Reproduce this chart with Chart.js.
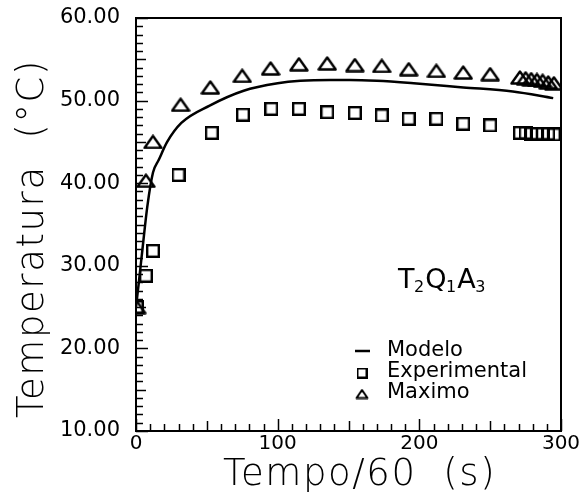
<!DOCTYPE html>
<html><head><meta charset="utf-8">
<script src="https://cdn.jsdelivr.net/npm/chart.js@4/dist/chart.umd.min.js"></script>
<style>html,body{margin:0;padding:0;background:#fff;}canvas{display:block;}</style>
</head><body>
<canvas id="c" width="581" height="497"></canvas>
<script>
// ---- data ----
const modelX = [0, 2, 5, 8, 12, 16, 22, 32, 52, 76, 100, 116, 137, 151, 170, 196, 231, 266, 294.5];
const modelY = [25.0, 28.0, 32.7, 37.2, 41.3, 42.8, 45.0, 47.3, 49.4, 51.2, 52.1, 52.4, 52.5, 52.5, 52.4, 52.1, 51.6, 51.1, 50.3];

const expX = [0.5, 7, 12, 30, 53.5, 75.5, 95.5, 115, 135, 154.5, 173.5, 192.5, 212, 231, 250, 271, 275, 279, 283, 287, 291, 295];
const expY = [25.0, 28.8, 31.8, 41.0, 46.1, 48.3, 49.0, 49.0, 48.6, 48.5, 48.2, 47.8, 47.8, 47.2, 47.0, 46.1, 46.1, 46.0, 46.0, 46.0, 46.0, 45.9];

const maxX = [0.5, 7, 12, 31.5, 52.5, 75, 95, 115, 135, 154.5, 173.5, 192.5, 212, 231, 250, 271, 275, 279, 283, 287, 291, 295];
const maxY = [25.0, 40.3, 45.0, 49.5, 51.6, 53.0, 53.9, 54.4, 54.5, 54.3, 54.2, 53.8, 53.6, 53.4, 53.2, 52.8, 52.7, 52.6, 52.5, 52.4, 52.2, 52.1];

const seriesNames = ['Modelo', 'Experimental', 'Maximo'];
const xTitle = 'Tempo/60  (s)';
const yTitle = 'Temperatura  (°C)';
const annotationParts = [['T', false], ['2', true], ['Q', false], ['1', true], ['A', false], ['3', true]];

const FONT = "'DejaVu Sans', sans-serif";

function toPoints(xs, ys) { return xs.map((x, i) => ({x: x, y: ys[i]})); }

function makeSquare(s, lw) {
  const c = document.createElement('canvas');
  c.width = s; c.height = s;
  const g = c.getContext('2d');
  g.strokeStyle = '#000'; g.lineWidth = lw;
  g.strokeRect(lw / 2, lw / 2, s - lw, s - lw);
  return c;
}
function makeTriangle(w, h, lw) {
  const c = document.createElement('canvas');
  c.width = w; c.height = h;
  const g = c.getContext('2d');
  g.strokeStyle = '#000'; g.lineWidth = lw; g.lineJoin = 'round';
  g.beginPath();
  g.moveTo(1.5, h - 1.5); g.lineTo(w / 2, 1.5); g.lineTo(w - 1.5, h - 1.5); g.closePath();
  g.stroke();
  return c;
}
const sqImg = makeSquare(14, 2.4);
const triImg = makeTriangle(20, 15, 2.4);
const sqLeg = makeSquare(11, 2);
const triLeg = makeTriangle(14, 11, 2);

const framePlugin = {
  id: 'frame',
  afterDraw(chart) {
    const {ctx, chartArea: a, scales: {x, y}} = chart;
    ctx.save();
    ctx.strokeStyle = '#000';
    ctx.lineWidth = 2;
    ctx.strokeRect(a.left, a.top, a.right - a.left, a.bottom - a.top);
    ctx.lineWidth = 1.5;
    for (let v = y.min; v <= y.max + 1e-6; v += 1) {
      const p = Math.round(y.getPixelForValue(v)) + 0.5;
      const r = Math.round(v);
      const len = (r % 10 === 0) ? 12 : (r % 5 === 0 ? 10 : 7);
      ctx.beginPath(); ctx.moveTo(a.left, p); ctx.lineTo(a.left + len, p); ctx.stroke();
    }
    for (let v = x.min; v <= x.max + 1e-6; v += 10) {
      const p = Math.round(x.getPixelForValue(v)) + 0.5;
      const r = Math.round(v);
      const len = (r % 100 === 0) ? 12 : (r % 50 === 0 ? 10 : 7);
      ctx.beginPath(); ctx.moveTo(p, a.bottom); ctx.lineTo(p, a.bottom - len); ctx.stroke();
    }
    ctx.fillStyle = '#000';
    ctx.font = '200 37px ' + FONT;
    ctx.textBaseline = 'alphabetic';
    ctx.textAlign = 'left';
    if ('letterSpacing' in ctx) ctx.letterSpacing = '1.6px';
    ctx.fillText(xTitle, 223, 485);
    ctx.save();
    ctx.translate(43, 418);
    ctx.rotate(-Math.PI / 2);
    ctx.fillText(yTitle, 0, 0);
    ctx.restore();
    if ('letterSpacing' in ctx) ctx.letterSpacing = '0px';
    const ds = chart.data.datasets;
    ctx.font = '21px ' + FONT;
    ctx.textBaseline = 'middle';
    ds.forEach((d, i) => {
      const ly = 351 + i * 21;
      if (d.showLine) {
        ctx.lineWidth = 2.5;
        ctx.beginPath(); ctx.moveTo(355, ly); ctx.lineTo(370, ly); ctx.stroke();
      } else {
        const img = d.legendImg;
        ctx.drawImage(img, 362 - img.width / 2, ly + 1 - img.height / 2);
      }
      ctx.fillText(d.label, 387, ly);
    });
    let ax = x.getPixelForValue(185);
    const ab = y.getPixelForValue(27.3);
    ctx.textBaseline = 'alphabetic';
    annotationParts.forEach(([t, sub]) => {
      ctx.font = (sub ? '16px ' : '27px ') + FONT;
      ctx.fillText(t, ax, ab + (sub ? 4 : 0));
      ax += ctx.measureText(t).width + (sub ? 1 : -0.5);
    });
    ctx.restore();
  }
};

new Chart(document.getElementById('c'), {
  type: 'scatter',
  data: {
    datasets: [
      {label: seriesNames[0], data: toPoints(modelX, modelY), showLine: true, pointRadius: 0,
       borderColor: '#000', borderWidth: 2.5, cubicInterpolationMode: 'monotone', fill: false},
      {label: seriesNames[1], data: toPoints(expX, expY), showLine: false, pointStyle: sqImg,
       pointRadius: 7, borderColor: '#000', backgroundColor: '#000', legendImg: sqLeg},
      {label: seriesNames[2], data: toPoints(maxX, maxY), showLine: false, pointStyle: triImg,
       pointRadius: 7, borderColor: '#000', backgroundColor: '#000', legendImg: triLeg}
    ]
  },
  options: {
    responsive: false,
    animation: false,
    devicePixelRatio: 1,
    layout: {padding: {left: 0, right: 20, top: 18, bottom: 0}},
    plugins: {legend: {display: false}, tooltip: {enabled: false}},
    scales: {
      x: {
        type: 'linear', min: 0, max: 300,
        grid: {display: false, drawTicks: false},
        border: {display: false},
        ticks: {stepSize: 100, color: '#000', font: {family: FONT, size: 20}, padding: 1, maxRotation: 0},
        afterFit(s) { s.height = 497 - 431; s.paddingLeft = 0; s.paddingRight = 0; }
      },
      y: {
        type: 'linear', min: 10, max: 60,
        grid: {display: false, drawTicks: false},
        border: {display: false},
        ticks: {stepSize: 10, color: '#000', font: {family: FONT, size: 21}, padding: 16,
                callback: v => Number(v).toFixed(2)},
        afterFit(s) { s.width = 136; s.paddingTop = 0; s.paddingBottom = 0; }
      }
    }
  },
  plugins: [framePlugin]
});
</script>
</body></html>
